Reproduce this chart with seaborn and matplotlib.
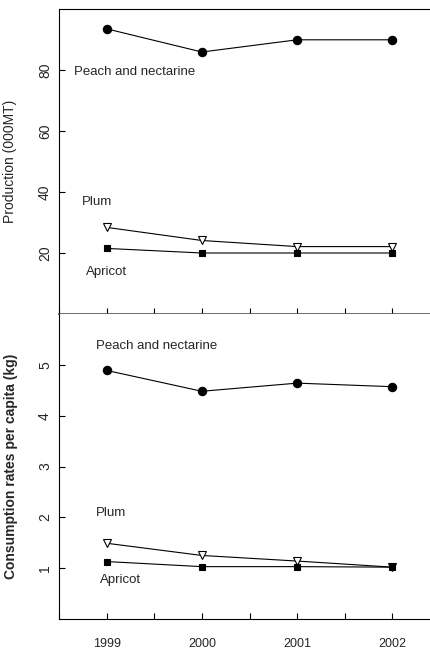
import matplotlib
matplotlib.use("Agg")
import matplotlib.pyplot as plt
import seaborn as sns
import pandas as pd
from matplotlib.ticker import MultipleLocator, FixedLocator

sns.set_style("ticks")
plt.rcParams['font.family'] = ['Liberation Sans', 'DejaVu Sans']

years = [1999, 2000, 2001, 2002]
prod_peach = [93.5, 85.9, 89.9, 89.9]
prod_plum = [28.4, 24.1, 22.1, 22.1]
prod_apricot = [21.5, 20.0, 20.0, 20.0]
cons_peach = [4.89, 4.48, 4.64, 4.57]
cons_plum = [1.49, 1.25, 1.14, 1.02]
cons_apricot = [1.13, 1.03, 1.03, 1.02]
series_names = ["Peach and nectarine", "Plum", "Apricot"]

W, H = 430, 653
fig = plt.figure(figsize=(W / 100, H / 100), dpi=100)
left = 59 / W
width = (440 - 59) / W
ax1 = fig.add_axes([left, 1 - 314 / H, width, (314 - 9) / H])
ax2 = fig.add_axes([left, 1 - 619 / H, width, (619 - 314) / H])

styles = {
    "Peach and nectarine": dict(marker="o", markersize=6, markerfacecolor="black"),
    "Plum": dict(marker="v", markersize=6, markerfacecolor="white"),
    "Apricot": dict(marker="s", markersize=5, markerfacecolor="black"),
}

def draw(ax, vals):
    for name, v in zip(series_names, vals):
        df = pd.DataFrame({"year": years, "value": v})
        sns.lineplot(data=df, x="year", y="value", ax=ax, color="black",
                     linewidth=0.8, markeredgecolor="black",
                     markeredgewidth=0.8, **styles[name])
    ax.set_xlim(1998.5, 2002.5)
    ax.xaxis.set_major_locator(FixedLocator(years))
    ax.xaxis.set_minor_locator(MultipleLocator(0.5))
    ax.tick_params(axis="both", which="both", direction="in", length=4,
                   width=0.8, color="black")
    ax.tick_params(axis="y", labelsize=10, pad=5)
    ax.spines["right"].set_visible(False)
    ax.set_xlabel("")

draw(ax1, [prod_peach, prod_plum, prod_apricot])
draw(ax2, [cons_peach, cons_plum, cons_apricot])

ax1.set_ylim(0, 100)
ax1.yaxis.set_major_locator(FixedLocator([20, 40, 60, 80]))
ax1.tick_params(axis="x", labelbottom=False)
ax1.spines["bottom"].set_color("#555555")
ax1.spines["bottom"].set_linewidth(1.2)
for s in ["left", "top"]:
    ax1.spines[s].set_color("black")
    ax1.spines[s].set_linewidth(0.8)
for lab in ax1.get_yticklabels():
    lab.set_rotation(90)
    lab.set_va("center")
ax1.set_ylabel("Production (000MT)", fontsize=10)
ax1.yaxis.set_label_coords(-0.11, 0.5)

ax2.set_ylim(0, 6)
ax2.yaxis.set_major_locator(FixedLocator([1, 2, 3, 4, 5]))
ax2.spines["top"].set_visible(False)
for s in ["left", "bottom"]:
    ax2.spines[s].set_color("black")
    ax2.spines[s].set_linewidth(0.8)
ax2.set_xticklabels([str(y) for y in years])
ax2.tick_params(axis="x", labelsize=9, pad=14)
for lab in ax2.get_yticklabels():
    lab.set_rotation(90)
    lab.set_va("center")
ax2.set_ylabel("Consumption rates per capita (kg)", fontsize=10, fontweight="bold")
ax2.yaxis.set_label_coords(-0.108, 0.5)

fs = 9.5
ax1.text(1998.657, 79.5, series_names[0], fontsize=fs, va="center", ha="left")
ax1.text(1998.74, 36.8, series_names[1], fontsize=fs, va="center", ha="left")
ax1.text(1998.78, 13.9, series_names[2], fontsize=fs, va="center", ha="left")
ax2.text(1998.89, 5.37, series_names[0], fontsize=fs, va="center", ha="left")
ax2.text(1998.89, 2.08, series_names[1], fontsize=fs, va="center", ha="left")
ax2.text(1998.93, 0.76, series_names[2], fontsize=fs, va="center", ha="left")

fig.savefig("out.png", dpi=100)
